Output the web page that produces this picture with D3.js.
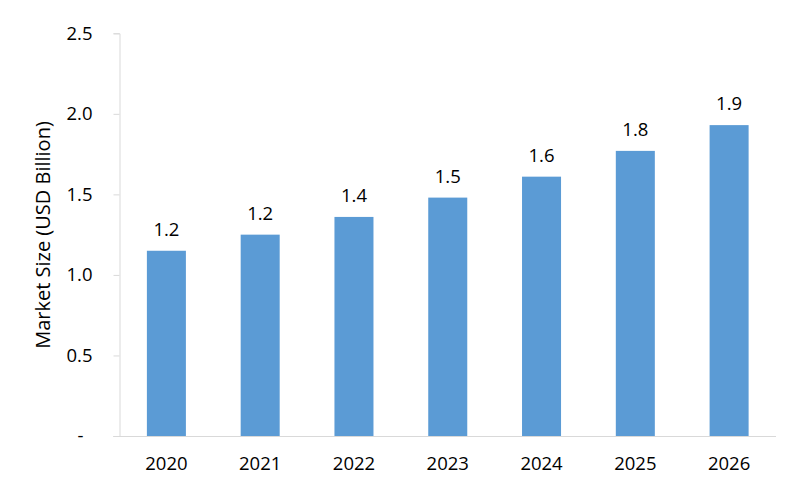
<!DOCTYPE html>
<html>
<head>
<meta charset="utf-8">
<script src="https://cdn.jsdelivr.net/npm/d3@7"></script>
<style>
  html, body { margin: 0; padding: 0; background: #fff; }
  svg { display: block; }
  text { font-family: "Open Sans", "Noto Sans", sans-serif; fill: #000; }
</style>
</head>
<body>
<svg id="chart" width="800" height="483"></svg>
<script>
const categories = ["2020", "2021", "2022", "2023", "2024", "2025", "2026"];
const values = [1.15, 1.25, 1.36, 1.48, 1.61, 1.77, 1.93];
const valueLabels = ["1.2", "1.2", "1.4", "1.5", "1.6", "1.8", "1.9"];
const yTicks = [0, 0.5, 1.0, 1.5, 2.0, 2.5];
const yTickLabels = ["-", "0.5", "1.0", "1.5", "2.0", "2.5"];
const yTitle = "Market Size (USD Billion)";

const svg = d3.select("#chart");
const margin = { left: 119.5, right: 24, top: 33.3, bottom: 47 };
const W = 800, H = 483;
const fontSize = "18.5px";

const x = d3.scaleBand()
  .domain(categories)
  .range([margin.left, W - margin.right])
  .paddingInner(0.584)
  .paddingOuter(0.292);

const y = d3.scaleLinear()
  .domain([0, 2.5])
  .range([H - margin.bottom, margin.top]);

const axisColor = "#d9d9d9";

// Y axis
const yAxis = svg.append("g")
  .attr("transform", `translate(${margin.left},0)`)
  .call(d3.axisLeft(y).tickValues(yTicks).tickSize(6).tickPadding(21)
    .tickFormat((d, i) => yTickLabels[i]));
yAxis.select(".domain").attr("stroke", axisColor);
yAxis.selectAll(".tick line").attr("stroke", axisColor);
yAxis.selectAll(".tick text")
  .style("font-size", fontSize)
  .attr("fill", "#000")
  .attr("dx", (d) => d === 0 ? "-9" : "0");

// X axis
const xAxis = svg.append("g")
  .attr("transform", `translate(0,${y(0)})`)
  .call(d3.axisBottom(x).tickSize(0).tickPadding(21));
xAxis.select(".domain").attr("stroke", axisColor)
  .attr("d", `M${margin.left - 6},0.5H${W - margin.right}`);
xAxis.selectAll(".tick text").style("font-size", fontSize).attr("fill", "#000");

// Bars
svg.append("g").selectAll("rect")
  .data(values)
  .join("rect")
  .attr("x", (d, i) => x(categories[i]))
  .attr("width", x.bandwidth())
  .attr("y", d => y(d))
  .attr("height", d => y(0) - y(d))
  .attr("fill", "#5b9bd5");

// Value labels
svg.append("g").selectAll("text")
  .data(values)
  .join("text")
  .attr("x", (d, i) => x(categories[i]) + x.bandwidth() / 2)
  .attr("y", d => y(d) - 15)
  .attr("text-anchor", "middle")
  .style("font-size", fontSize)
  .text((d, i) => valueLabels[i]);

// Y title
svg.append("text")
  .attr("transform", `translate(50,235) rotate(-90)`)
  .attr("text-anchor", "middle")
  .style("font-size", "20px")
  .text(yTitle);
</script>
</body>
</html>
